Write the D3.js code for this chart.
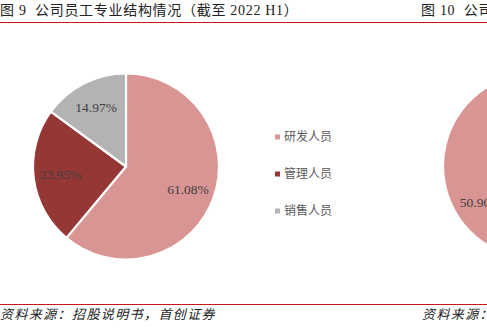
<!DOCTYPE html>
<html>
<head>
<meta charset="utf-8">
<script src="https://cdn.jsdelivr.net/npm/d3@7"></script>
<style>
  body { margin: 0; background: #fff; }
  svg { display: block; }
</style>
</head>
<body>
<div id="wrapper"></div>
<script>
// 1. Data

const categories = ["研发人员", "管理人员", "销售人员"];
const shares = [61.08, 23.95, 14.97];
const colors = ["#d99594", "#953735", "#b3b3b3"];

// the neighbouring figure, cut off at the right edge
const nextShares = [40.4, 50.9, 8.7];
const nextColors = ["#953735", "#d99594", "#b3b3b3"];
const nextLabels = ["", "50.90%", ""];

const titleLeft = "图 9  公司员工专业结构情况（截至 2022 H1）";
const titleRight = "图 10  公司员工学历结构情况";
const sourceLeft = "资料来源：招股说明书，首创证券";
const sourceRight = "资料来源：招股说明书，首创证券";

// 2. Dimensions

const dimensions = {
  width: 487,
  height: 332,
  pie: { cx: 126, cy: 166.5, r: 93 },
  nextPie: { cx: 536, cy: 166, r: 93 },
};

const cjk = "'Noto Sans CJK SC', sans-serif";
const mixed = "'Liberation Serif', 'Noto Sans CJK SC', serif";
const serif = "'Liberation Serif', 'Times New Roman', serif";

// 3. Canvas

const wrapper = d3
  .select("#wrapper")
  .append("svg")
  .attr("width", dimensions.width)
  .attr("height", dimensions.height);

// header + footer
const addText = (x, y, txt, opts) =>
  wrapper
    .append("text")
    .attr("x", x)
    .attr("y", y)
    .style("white-space", "pre")
    .style("font-family", opts.family)
    .style("font-size", opts.size)
    .style("font-style", opts.italic ? "italic" : "normal")
    .style("letter-spacing", opts.spacing)
    .style("fill", "#222")
    .text(txt);

addText(0, 15, titleLeft, { family: mixed, size: "14px", spacing: "0.7px" });
addText(421, 15, titleRight, { family: mixed, size: "14px", spacing: "0.7px" });
addText(0, 319, sourceLeft, {
  family: cjk,
  size: "13px",
  spacing: "1.4px",
  italic: true,
});
addText(422, 319, sourceRight, {
  family: cjk,
  size: "13px",
  spacing: "1.4px",
  italic: true,
});

wrapper
  .selectAll("line.rule")
  .data([22.5, 304.5])
  .join("line")
  .attr("class", "rule")
  .attr("x1", 0)
  .attr("x2", dimensions.width)
  .attr("y1", (d) => d)
  .attr("y2", (d) => d)
  .style("stroke", "#c8161d")
  .style("stroke-width", 1.2);

// 4. Pie

const pie = d3
  .pie()
  .sort(null)
  .value((d) => d);

const drawPie = (values, fills, labels, geo, labelRadius) => {
  const g = wrapper
    .append("g")
    .attr("transform", `translate(${geo.cx}, ${geo.cy})`);
  const arc = d3.arc().innerRadius(0).outerRadius(geo.r);
  const labelArc = d3.arc().innerRadius(labelRadius).outerRadius(labelRadius);
  const arcs = pie(values);

  g.selectAll("path")
    .data(arcs)
    .join("path")
    .attr("d", arc)
    .style("fill", (d, i) => fills[i])
    .style("stroke", "#fff")
    .style("stroke-width", 2.2)
    .style("stroke-linejoin", "round");

  g.selectAll("text")
    .data(arcs)
    .join("text")
    .attr("transform", (d) => `translate(${labelArc.centroid(d)})`)
    .attr("text-anchor", "middle")
    .attr("dy", "0.35em")
    .style("font-family", serif)
    .style("font-size", "13.5px")
    .style("fill", "#404040")
    .text((d, i) => labels[i]);
};

drawPie(
  shares,
  colors,
  shares.map((d) => d3.format(".2f")(d) + "%"),
  dimensions.pie,
  66
);

drawPie(nextShares, nextColors, nextLabels, dimensions.nextPie, 66);

// 5. Legend

const legend = wrapper
  .append("g")
  .selectAll("g")
  .data(categories)
  .join("g")
  .attr("transform", (d, i) => `translate(275, ${137 + i * 37})`);

legend
  .append("rect")
  .attr("x", 0)
  .attr("y", -2.5)
  .attr("width", 5)
  .attr("height", 5)
  .style("fill", (d, i) => colors[i]);

legend
  .append("text")
  .attr("x", 9)
  .attr("dy", "0.36em")
  .style("font-family", cjk)
  .style("font-size", "12px")
  .style("fill", "#595959")
  .text((d) => d);
</script>
</body>
</html>
